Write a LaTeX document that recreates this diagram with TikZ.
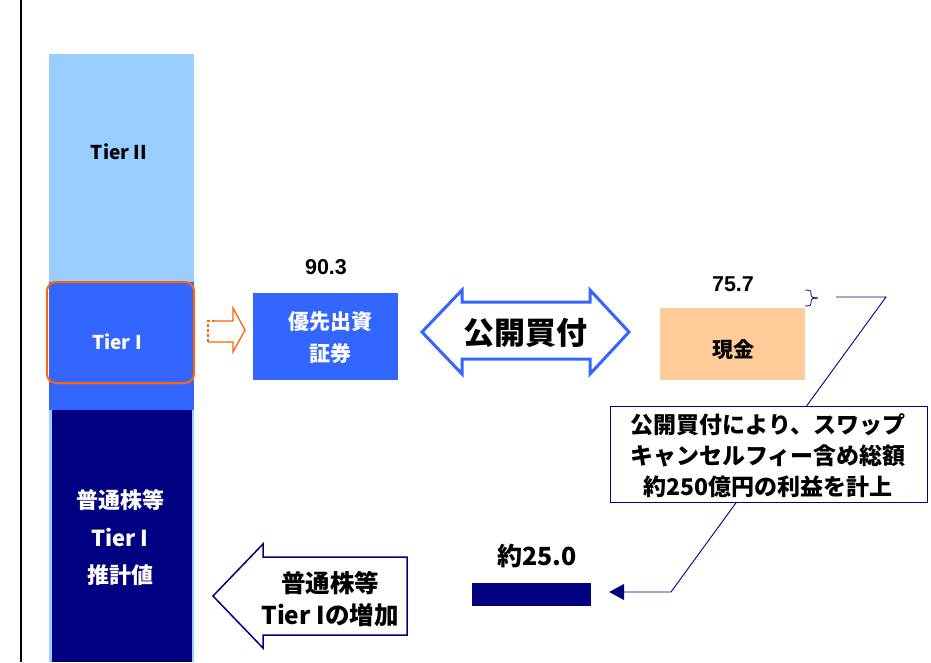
\documentclass[tikz,border=0pt]{standalone}
\usepackage{fontspec}
\usetikzlibrary{arrows.meta}
\newfontfamily\jp{Noto Sans CJK JP}
\newfontfamily\lat{Liberation Sans}
\definecolor{lightblue}{HTML}{99CCFF}
\definecolor{midblue}{HTML}{3366FF}
\definecolor{navy}{HTML}{000080}
\definecolor{orangeline}{HTML}{FF6600}
\definecolor{peach}{HTML}{FFCC99}
\begin{document}
\begin{tikzpicture}[x=1pt,y=-1pt,
  lbl/.style={inner sep=0, align=center, font=\jp\bfseries},
  numlbl/.style={inner sep=0, font=\lat\bfseries\fontsize{21.5}{23}\selectfont},
  boxfill/.style={inner sep=0, minimum width=145pt}
]
\useasboundingbox (0,0) rectangle (931,662);
% left frame line
\draw[line width=2] (21,0) -- (21,662);
% column
\fill[lightblue] (49,54) rectangle (194,282);
\fill[midblue] (49,282) rectangle (194,410);
\fill[lightblue] (49,410) rectangle (194,662);
\fill[navy] (52,410) rectangle (192,662);
\draw[orangeline, line width=2, rounded corners=9] (47,282) rectangle (194,383);
\node[lbl, font=\jp\bfseries\fontsize{19}{20}\selectfont] (t2) at (119,152) {Tier II};
\node[lbl, text=white, font=\jp\bfseries\fontsize{19}{20}\selectfont] (t1) at (117,342) {Tier I};
\node[lbl, text=white, font=\jp\bfseries\fontsize{22}{37.5}\selectfont] (ct1) at (120,538) {普通株等\\Tier I\\推計値};
% orange hollow arrow
\draw[orangeline, line width=1.3] (214,321) -- (233,321) -- (233,308) -- (245,330) -- (233,352) -- (233,342) -- (208,342);
\draw[orangeline, line width=1.3, dashed, dash pattern=on 3pt off 2pt] (208,342) -- (208,321) -- (214,321);
% preferred securities box
\node[boxfill, fill=midblue, minimum height=87pt] (pref) at (325.5,336.5) {};
\node[lbl, text=white, font=\jp\bfseries\fontsize{21}{32}\selectfont] (preft) at (330,338) {優先出資\\証券};
\node[numlbl] (v1) at (326,267) {90.3};
% double arrow
\draw[midblue, line width=3, fill=white, line join=miter] (422,332) -- (462,290) -- (462,302) -- (590,302) -- (590,290) -- (629,332) -- (590,374) -- (590,359) -- (462,359) -- (462,374) -- cycle;
\node[lbl, font=\jp\bfseries\fontsize{31}{32}\selectfont] (tob) at (525,333) {公開買付};
% cash box
\node[boxfill, fill=peach, minimum height=72pt] (cash) at (732.5,344) {};
\node[lbl, font=\jp\bfseries\fontsize{21}{22}\selectfont] (casht) at (733,350) {現金};
\node[numlbl] (v2) at (733,284) {75.7};
% brace
\draw[navy, line width=0.8] (805,290) .. controls (811,290) and (811,291) .. (811,294) .. controls (811,297) and (812,298) .. (818,298);
\draw[navy, line width=0.8] (805,306) .. controls (811,306) and (811,305) .. (811,302) .. controls (811,299) and (812,298) .. (818,298);
% result bar
\node[fill=navy, minimum width=119pt, minimum height=23pt, inner sep=0] (bar) at (531.5,594.5) {};
\node[lbl, font=\jp\bfseries\fontsize{25}{26}\selectfont] (v3) at (537,556) {約25.0};
% connector
\coordinate (c1) at (836,297);
\coordinate (c2) at (886,297);
\coordinate (c3) at (671,592);
\coordinate (c4) at ([xshift=18pt]bar.east);
\draw[navy, line width=0.9, -{Triangle[length=15pt,width=16pt]}] (c1) -- (c2) -- (c3) -- (c4 |- c3);
% callout
\node[draw=navy, fill=white, line width=1, minimum width=317pt, minimum height=96pt, inner sep=0] (call) at (768.5,454.5) {};
\node[lbl, font=\jp\bfseries\fontsize{23}{31}\selectfont] (callt) at (768,456) {公開買付により、スワップ\\キャンセルフィー含め総額\\約250億円の利益を計上};
% left hollow arrow
\draw[navy, line width=1.5, fill=white] (213,596) -- (263,544) -- (263,557) -- (407,557) -- (407,635) -- (263,635) -- (263,648) -- cycle;
\node[lbl, font=\jp\bfseries\fontsize{24.5}{32}\selectfont] (inc) at (330,599) {普通株等\\Tier Iの増加};
\end{tikzpicture}
\end{document}
